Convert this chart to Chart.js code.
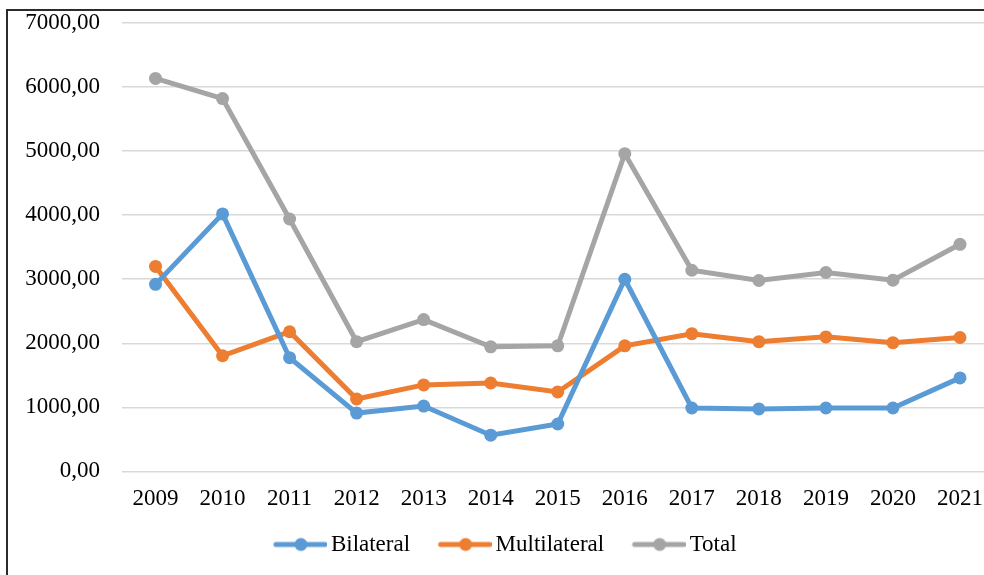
<!DOCTYPE html>
<html>
<head>
<meta charset="utf-8">
<script src="https://cdn.jsdelivr.net/npm/chart.js@4.4.1/dist/chart.umd.min.js"></script>
<style>
  html, body { margin: 0; padding: 0; background: #fff; overflow: hidden; }
  #wrap { position: relative; width: 984px; height: 575px; overflow: hidden; }
  #frame { position: absolute; left: 6px; top: 9px; width: 1100px; height: 700px; border: 2px solid #2b2b2b; box-sizing: border-box; pointer-events: none; }
  #chart { position: absolute; left: 0; top: 0; }
</style>
</head>
<body>
<div id="wrap">
  <div id="frame"></div>
  <canvas id="chart" width="1000" height="575"></canvas>
</div>
<script>
// ==================== DATA ====================
const years = ['2009', '2010', '2011', '2012', '2013', '2014', '2015', '2016', '2017', '2018', '2019', '2020', '2021'];
const bilateral = [2920, 4020, 1775, 910, 1020, 565, 740, 3000, 990, 975, 990, 990, 1460];
const multilateral = [3200, 1805, 2180, 1130, 1350, 1380, 1240, 1960, 2150, 2025, 2100, 2010, 2090];
const total = [6135, 5820, 3940, 2025, 2370, 1945, 1960, 4960, 3140, 2980, 3105, 2985, 3545];
const yTicks = [0, 1000, 2000, 3000, 4000, 5000, 6000, 7000];

const BLUE = '#5b9bd5', ORANGE = '#ed7d31', GRAY = '#a5a5a5';
const FONT = "'Liberation Serif', 'Times New Roman', serif";

// legend marker: line with a dot in the middle
// (left part of the image is blank, it gives the extra gap between items)
function legendMarker(color) {
    const c = document.createElement('canvas');
    c.width = 75; c.height = 16;
    const g = c.getContext('2d');
    g.strokeStyle = color; g.lineWidth = 5; g.lineCap = 'round';
    g.beginPath(); g.moveTo(24, 8); g.lineTo(73, 8); g.stroke();
    g.fillStyle = color;
    g.beginPath(); g.arc(49, 8, 6.5, 0, Math.PI * 2); g.fill();
    return c;
}

function makeSet(label, data, color) {
    return {
        label: label,
        data: data,
        borderColor: color,
        backgroundColor: color,
        borderWidth: 5,
        pointRadius: 6.5,
        pointHoverRadius: 6.5,
        pointBackgroundColor: color,
        pointBorderWidth: 0,
        tension: 0,
        fill: false,
        marker: legendMarker(color)
    };
}

// ==================== CHART ====================
const ctx = document.getElementById('chart').getContext('2d');
new Chart(ctx, {
    type: 'line',
    data: {
        labels: years,
        datasets: [
            makeSet('Bilateral', bilateral, BLUE),
            makeSet('Multilateral', multilateral, ORANGE),
            makeSet('Total', total, GRAY)
        ]
    },
    options: {
        responsive: false,
        animation: false,
        layout: { padding: { top: 23, right: 4, left: 0, bottom: 9 } },
        plugins: {
            tooltip: { enabled: false },
            legend: {
                position: 'bottom',
                labels: {
                    font: { family: FONT, size: 23 },
                    color: '#000',
                    usePointStyle: true,
                    pointStyleWidth: 60,
                    padding: 14,
                    generateLabels: chart => chart.data.datasets.map((ds, i) => ({
                        text: ds.label,
                        pointStyle: ds.marker,
                        fillStyle: ds.borderColor,
                        strokeStyle: ds.borderColor,
                        lineWidth: 0,
                        hidden: false,
                        datasetIndex: i,
                        fontColor: '#000'
                    }))
                }
            }
        },
        scales: {
            x: {
                offset: true,
                grid: { display: false },
                border: { display: false },
                ticks: { font: { family: FONT, size: 23 }, color: '#000', padding: 6, maxRotation: 0 }
            },
            y: {
                min: 0,
                max: 7000,
                afterFit: scale => {
                    scale.width = 122;
                    scale.paddingTop = 0;
                    scale.paddingBottom = 0;
                },
                afterBuildTicks: scale => { scale.ticks = yTicks.map(v => ({ value: v })); },
                grid: { color: '#d9d9d9', lineWidth: 1.5, drawTicks: false },
                border: { display: false },
                ticks: {
                    font: { family: FONT, size: 23 },
                    color: '#000',
                    padding: 22,
                    callback: v => v.toFixed(2).replace('.', ',')
                }
            }
        }
    }
});
</script>
</body>
</html>
